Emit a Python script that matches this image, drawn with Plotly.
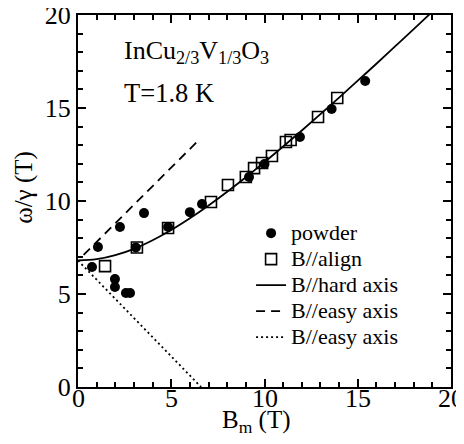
import plotly.graph_objects as go

# powder data (filled circles)
powder_B = [0.75, 1.07, 2.25, 3.54, 1.98, 1.98, 2.57, 2.79, 3.1, 4.83, 6.0, 6.65, 9.17, 10.0, 11.9, 13.6, 15.4]
powder_w = [6.45, 7.53, 8.6, 9.35, 5.8, 5.38, 5.05, 5.05, 7.5, 8.6, 9.4, 9.84, 11.29, 11.99, 13.44, 14.95, 16.45]

# aligned data (open squares)
align_B = [1.45, 3.16, 4.83, 7.13, 8.04, 9.0, 9.44, 9.87, 10.4, 11.15, 11.4, 12.87, 13.9]
align_w = [6.5, 7.5, 8.55, 9.95, 10.86, 11.29, 11.77, 12.04, 12.42, 13.17, 13.28, 14.52, 15.54]

# B//hard axis curve
hard_B = [0, 1, 2, 3, 4, 5, 6, 7, 8, 9, 10, 11, 12, 13, 14, 15, 16, 17, 18, 19]
hard_w = [6.8, 6.87, 7.09, 7.43, 7.89, 8.44, 9.07, 9.76, 10.5, 11.28, 12.09, 12.93, 13.79, 14.67, 15.56, 16.47, 17.38, 18.31, 19.24, 20.18]

# B//easy axis (dashed, upper branch)
easy1_B = [0.3, 6.5]
easy1_w = [7.1, 13.3]

# B//easy axis (dotted, lower branch)
easy2_B = [0.0, 6.6]
easy2_w = [6.8, 0.0]

# tick labels
x_ticks = [0, 5, 10, 15, 20]
x_ticklabels = ["0", "5", "10", "15", "20"]
y_ticks = [0, 5, 10, 15, 20]
y_ticklabels = ["0", "5", "10", "15", "20"]

FONT = "Liberation Serif, Times New Roman, DejaVu Serif, serif"
LEG = "<span style=\"font-size:22px;font-family:'Liberation Serif',serif\">{}</span>"

fig = go.Figure()
fig.add_trace(go.Scatter(x=powder_B, y=powder_w, mode="markers", name=LEG.format("powder"),
                         marker=dict(symbol="circle", size=10, color="black")))
fig.add_trace(go.Scatter(x=align_B, y=align_w, mode="markers", name=LEG.format("B//align"),
                         marker=dict(symbol="square-open", size=11, color="black",
                                     line=dict(width=1.6, color="black"))))
fig.add_trace(go.Scatter(x=hard_B, y=hard_w, mode="lines", name=LEG.format("B//hard axis"),
                         line=dict(color="black", width=1.8, shape="spline")))
fig.add_trace(go.Scatter(x=easy1_B, y=easy1_w, mode="lines", name=LEG.format("B//easy axis"),
                         line=dict(color="black", width=1.8, dash="9px,6px")))
fig.add_trace(go.Scatter(x=easy2_B, y=easy2_w, mode="lines", name=LEG.format("B//easy axis"),
                         line=dict(color="black", width=1.8, dash="2px,3px")))

axis_common = dict(
    showgrid=False, zeroline=False, showline=True, linecolor="black", linewidth=2,
    mirror="ticks", ticks="inside", ticklen=8, tickwidth=2, tickcolor="black",
    minor=dict(ticks="inside", ticklen=5, tickwidth=1.5, tickcolor="black", dtick=1),
    tickfont=dict(family=FONT, size=26, color="black"),
    automargin=False, ticklabeloverflow="allow",
)

fig.update_xaxes(range=[0, 20], tickmode="array", tickvals=x_ticks, showticklabels=False, **axis_common)
fig.update_yaxes(range=[0, 20], tickmode="array", tickvals=y_ticks, ticktext=y_ticklabels, **axis_common)

# x tick labels
for v, t in zip(x_ticks, x_ticklabels):
    fig.add_annotation(x=v, y=-0.031, xref="x", yref="paper", xanchor="center", yanchor="middle",
                       text=t, showarrow=False, font=dict(family=FONT, size=26, color="black"))

# axis titles
fig.add_annotation(x=0.477, y=-0.046, xref="paper", yref="paper", xanchor="center", yanchor="top",
                   text="B<sub>m</sub> (T)", showarrow=False,
                   font=dict(family=FONT, size=25, color="black"))
fig.add_annotation(x=-0.145, y=0.538, xref="paper", yref="paper", xanchor="center", yanchor="middle",
                   text="ω/γ (T)", showarrow=False, textangle=-90,
                   font=dict(family=FONT, size=25, color="black"))

# text labels
fig.add_annotation(x=0.118, y=0.9, xref="paper", yref="paper", xanchor="left", yanchor="middle",
                   text="InCu<sub>2/3</sub>V<sub>1/3</sub>O<sub>3</sub>", showarrow=False,
                   font=dict(family=FONT, size=26, color="black"))
fig.add_annotation(x=0.118, y=0.79, xref="paper", yref="paper", xanchor="left", yanchor="middle",
                   text="T=1.8 K", showarrow=False,
                   font=dict(family=FONT, size=26.5, color="black"))

fig.update_layout(
    width=456, height=436,
    margin=dict(l=70, r=13, t=7, b=57),
    paper_bgcolor="white", plot_bgcolor="white",
    font=dict(family=FONT, color="black"),
    legend=dict(x=0.464, y=0.462, xanchor="left", yanchor="top", bgcolor="rgba(0,0,0,0)",
                font=dict(family=FONT, size=17.7, color="black"), tracegroupgap=0,
                itemwidth=30),
    showlegend=True,
)

fig.write_html("out.html")
